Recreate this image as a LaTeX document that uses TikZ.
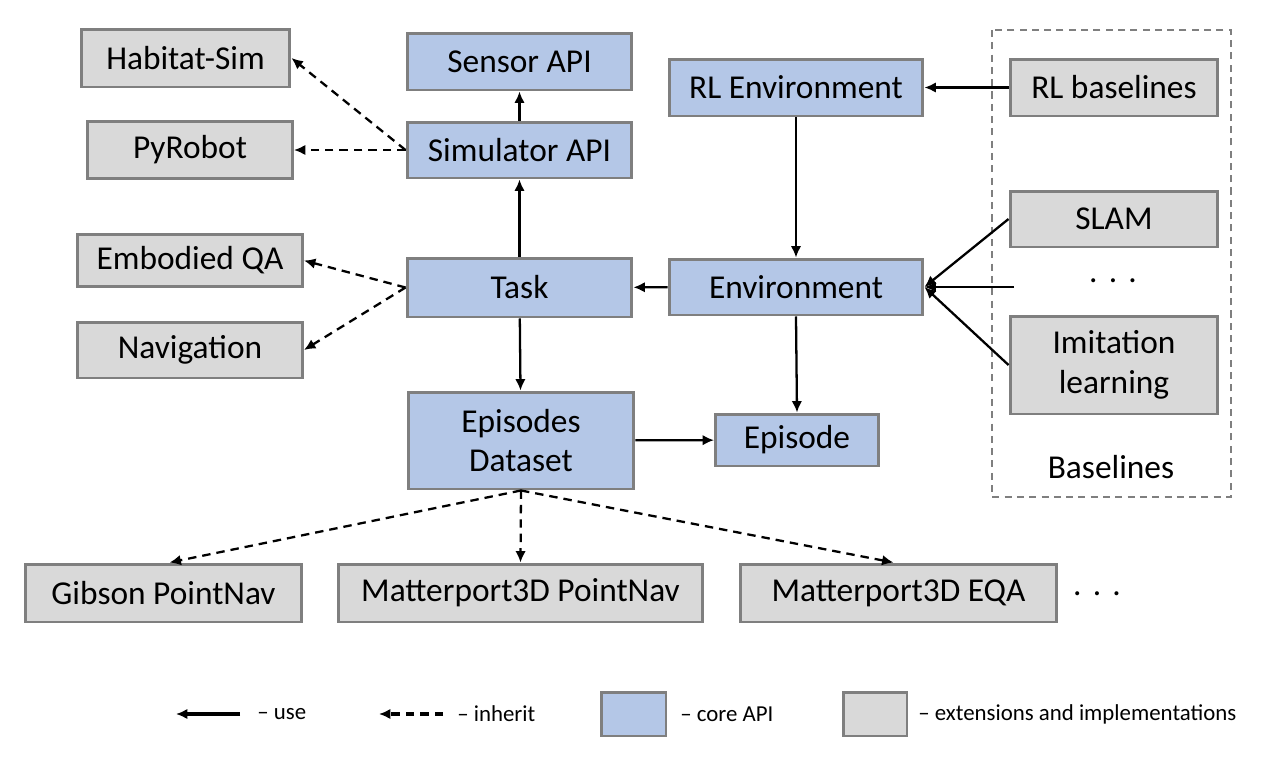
\documentclass[tikz,border=0pt]{standalone}
\usepackage{fontspec}
\setmainfont{Carlito}
\usetikzlibrary{arrows.meta,positioning}
\definecolor{coreblue}{HTML}{B4C7E7}
\definecolor{extgray}{HTML}{D9D9D9}
\definecolor{edgegray}{HTML}{7F7F7F}

\begin{document}
\begin{tikzpicture}[x=0.02cm,y=-0.02cm]
\tikzstyle{every node}+=[inner sep=0pt]
\tikzstyle{box}=[draw=edgegray, line width=1.7pt, font=\fontsize{19}{22.5}\selectfont, align=center]
\tikzstyle{core}=[box, fill=coreblue]
\tikzstyle{ext}=[box, fill=extgray]
\tikzstyle{use}=[line width=1.3pt, -{Latex[length=6.5pt,width=6pt]}]
\tikzstyle{inherit}=[use, dash pattern=on 4.8pt off 3.4pt]
\tikzstyle{legtext}=[font=\fontsize{13}{15}\selectfont, anchor=west]
\useasboundingbox (0,0) rectangle (1279,768);
% simulator side
\node[ext, minimum width=4.18cm, minimum height=1.16cm] (habitat) at (185.5,58) {Habitat-Sim};
\node[ext, minimum width=4.1cm, minimum height=1.14cm] (pyrobot) at (190,150) {PyRobot};
\node[core, minimum width=4.5cm, minimum height=1.14cm] (sensor) at (519.5,61.5) {Sensor API};
\node[core, minimum width=4.5cm, minimum height=1.12cm] (sim) at (519.5,150) {Simulator API};
% tasks
\node[ext, minimum width=4.5cm, minimum height=1.04cm] (eqa) at (190,260.5) {Embodied QA};
\node[ext, minimum width=4.5cm, minimum height=1.12cm] (nav) at (190,350) {Navigation};
\node[core, minimum width=4.5cm, minimum height=1.18cm] (task) at (519.5,287.5) {Task};
\node[core, minimum width=4.52cm, minimum height=1.94cm] (dataset) at (521,440.5) {Episodes\\Dataset};
% environments
\node[core, minimum width=5.08cm, minimum height=1.14cm] (rlenv) at (796,87.5) {RL Environment};
\node[core, minimum width=5.08cm, minimum height=1.12cm] (env) at (796,287) {Environment};
\node[core, minimum width=3.26cm, minimum height=1.04cm] (episode) at (797,440) {Episode};
% baselines
\draw[edgegray, line width=1.1pt, dash pattern=on 4pt off 3pt] (992,30) rectangle (1231,497);
\node[ext, minimum width=4.16cm, minimum height=1.14cm] (rlbase) at (1114,87.5) {RL baselines};
\node[ext, minimum width=4.16cm, minimum height=1.12cm] (slam) at (1114,219) {SLAM};
\node[font=\fontsize{19}{22.5}\selectfont] (bdots) at (1113,281) {.\,\,.\,\,.};
\node[ext, minimum width=4.16cm, minimum height=1.96cm] (imit) at (1114,365) {Imitation\\learning};
\node[font=\fontsize{19}{22.5}\selectfont] (baselines) at (1111,467) {Baselines};
\coordinate (dotsin) at (1014,287);
% datasets
\node[ext, minimum width=5.54cm, minimum height=1.16cm] (gibson) at (163.5,593) {Gibson PointNav};
\node[ext, minimum width=7.3cm, minimum height=1.16cm] (mppoint) at (520.5,593) {Matterport3D PointNav};
\node[ext, minimum width=6.34cm, minimum height=1.16cm] (mpeqa) at (898.5,593) {Matterport3D EQA};
\node[font=\fontsize{19}{22.5}\selectfont] (ddots) at (1097,594) {.\,\,.\,\,.};
% use
\draw[use] (sim) -- (sensor);
\draw[use] (task) -- (sim);
\draw[use] (task) -- (dataset);
\draw[use] (env) -- (task);
\draw[use] (rlenv) -- (env);
\draw[use] (env.south) -- (episode.north);
\draw[use] (dataset) -- (episode);
\draw[use] (rlbase) -- (rlenv);
\draw[use] (slam.west) -- (env.east);
\draw[use] (dotsin) -- (env.east);
\draw[use] (imit.west) -- (env.east);
% inherit
\draw[inherit] (sim.west) -- (habitat.east);
\draw[inherit] (sim.west) -- (pyrobot.east);
\draw[inherit] (task.west) -- (eqa.east);
\draw[inherit] (task.west) -- (nav.east);
\draw[inherit] (dataset.south) -- ([xshift=0.12cm]gibson.north);
\draw[inherit] (dataset.south) -- (mppoint.north);
\draw[inherit] (dataset.south) -- ([xshift=-0.1cm]mpeqa.north);
% legend
\coordinate (usefrom) at (240,714);
\coordinate (useto) at (176,714);
\draw[use, line width=1.8pt] (usefrom) -- (useto);
\node[legtext] (uselab) at (257,714) {– use};
\coordinate (inhfrom) at (443,714);
\coordinate (inhto) at (379,714);
\draw[inherit, line width=1.8pt] (inhfrom) -- (inhto);
\node[legtext] (inhlab) at (457,714) {– inherit};
\node[core, minimum width=1.3cm, minimum height=0.88cm] (legcore) at (633.5,714) {};
\node[legtext] (corelab) at (680,714) {– core API};
\node[ext, minimum width=1.28cm, minimum height=0.88cm] (legext) at (875,714) {};
\node[legtext] (extlab) at (918,714) {– extensions and implementations};
\end{tikzpicture}
\end{document}
